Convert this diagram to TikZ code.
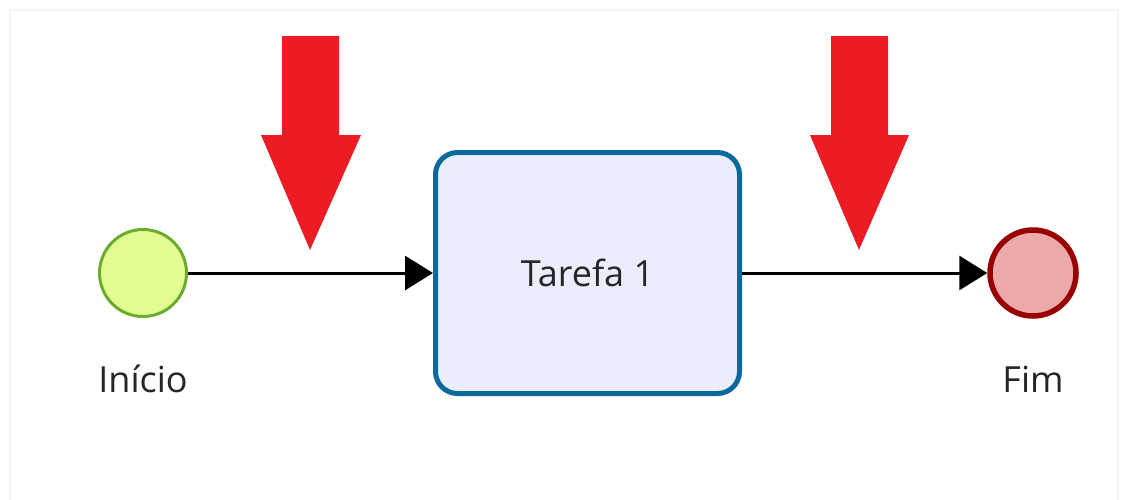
\documentclass[tikz,border=0pt]{standalone}
\usepackage{fontspec}
\setmainfont{Open Sans}
\usetikzlibrary{arrows.meta,positioning}
\definecolor{startgreen}{HTML}{6CAC2C}
\definecolor{startfill}{HTML}{E2FB92}
\definecolor{endred}{HTML}{990000}
\definecolor{endfill}{HTML}{ECA9A9}
\definecolor{taskblue}{HTML}{0B6A9B}
\definecolor{taskfill}{HTML}{EAEEFC}
\definecolor{markred}{HTML}{ED1C24}

\begin{document}
\begin{tikzpicture}[x=1pt,y=-1pt, every node/.style={font=\fontsize{36}{42}\selectfont, text=black!85}]
				\tikzstyle{myedgestyle} = [line width=3pt, -{Triangle[length=28pt,width=34pt]}]
				\tikzstyle{mymarkstyle} = [fill=markred, draw=none]
				
				\useasboundingbox (0,0) rectangle (1121,499);
				\draw [black!4, line width=1.5pt] (10,510) -- (10,10) -- (1118,10) -- (1118,510);
				
				\node [circle, draw=startgreen, fill=startfill, line width=3pt, minimum size=87pt, inner sep=0pt] (A1) at (143,273) {};
				\node [rectangle, rounded corners=22pt, draw=taskblue, fill=taskfill, line width=5pt, minimum width=304pt, minimum height=241pt] (B1) at (587.5,273) {};
				\node [circle, draw=endred, fill=endfill, line width=5.5pt, minimum size=86pt, inner sep=0pt] (C1) at (1033,273) {};
				
				\node [anchor=base] (A2) at (143,392) {Início};
				\node [anchor=base] (B2) at (587.5,286) {Tarefa 1};
				\node [anchor=base] (C2) at (1033,392) {Fim};
				
				\draw [myedgestyle] (A1) -- (B1);
				\draw [myedgestyle] (B1) -- (C1);
				
				% red markers
				\fill [mymarkstyle] (282,36) -- (339,36) -- (339,135) -- (361,135) -- (310,250) -- (261,135) -- (282,135) -- cycle;
				\fill [mymarkstyle] (831,36) -- (888,36) -- (888,135) -- (909,135) -- (859,250) -- (810,135) -- (831,135) -- cycle;
				
				\end{tikzpicture}
\end{document}
